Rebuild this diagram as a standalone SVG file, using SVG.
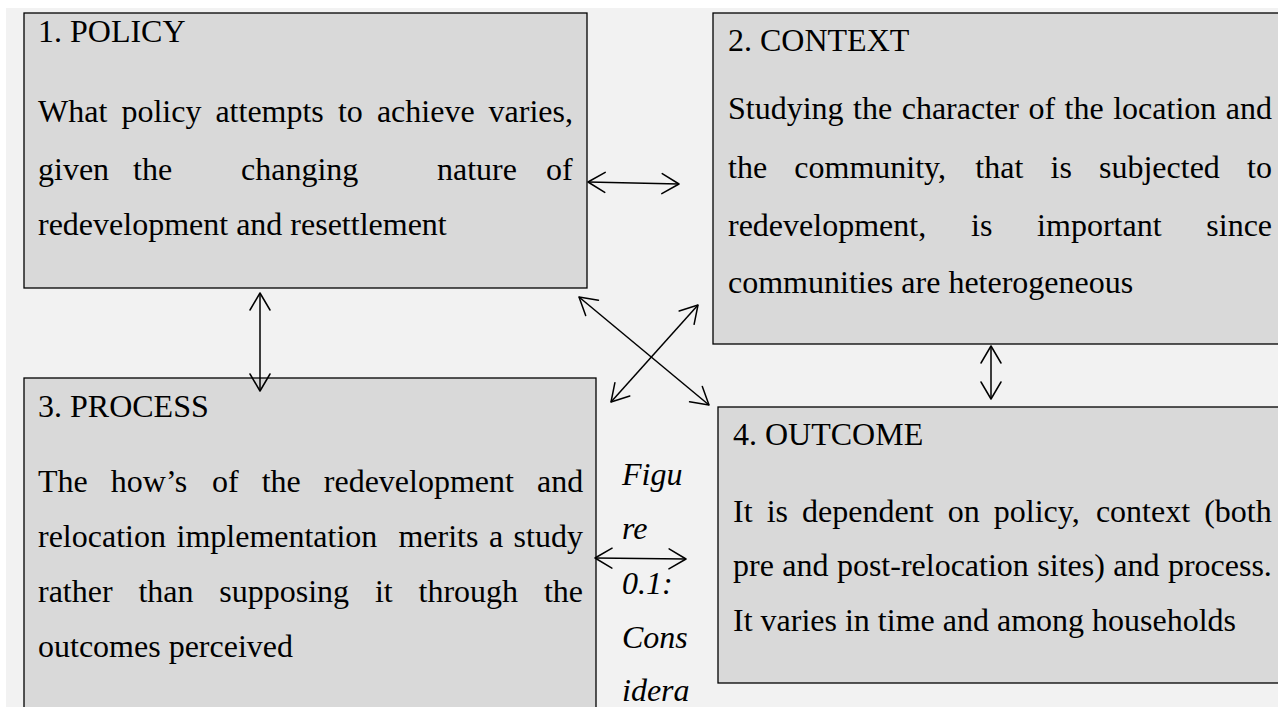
<svg xmlns="http://www.w3.org/2000/svg" width="1278" height="707" viewBox="0 0 1278 707">
  <style>
    .box { fill: #d9d9d9; stroke: #000; stroke-width: 1.3; }
    .t { font-family: "Liberation Serif", "Times New Roman", serif; font-size: 32px; fill: #000; }
    .cap { font-family: "Liberation Serif", "Times New Roman", serif; font-size: 32px; font-style: italic; fill: #000; }
    .conn { stroke: #000; stroke-width: 1.5; fill: none; marker-start: url(#head); marker-end: url(#head); }
  </style>
  <defs>
    <marker id="head" markerUnits="userSpaceOnUse" markerWidth="40" markerHeight="40" viewBox="-20 -20 40 40" refX="0" refY="0" orient="auto-start-reverse" overflow="visible">
      <path d="M -17 -10 L 0 0 L -17 10" fill="none" stroke="#000" stroke-width="1.5" stroke-linejoin="round" stroke-linecap="round"/>
    </marker>
  </defs>

  <rect x="0" y="0" width="1278" height="707" fill="#ffffff"/>
  <rect x="6" y="8" width="1272" height="699" fill="#f2f2f2"/>

  <g id="policy">
    <rect class="box" x="24" y="13" width="563" height="275"/>
    <text class="t" x="38" y="42">1. POLICY</text>
    <text class="t" y="122"><tspan x="38">What</tspan><tspan x="121.4">policy</tspan><tspan x="215.4">attempts</tspan><tspan x="337.9">to</tspan><tspan x="376.9">achieve</tspan><tspan x="488.6">varies,</tspan></text>
    <text class="t" y="180"><tspan x="38">given</tspan><tspan x="133">the</tspan><tspan x="241">changing</tspan><tspan x="437">nature</tspan><tspan x="546">of</tspan></text>
    <text class="t" x="38" y="235">redevelopment and resettlement</text>
  </g>

  <g id="context">
    <rect class="box" x="713" y="13" width="570" height="331"/>
    <text class="t" x="728" y="51">2. CONTEXT</text>
    <text class="t" y="119"><tspan x="728">Studying</tspan><tspan x="853.1">the</tspan><tspan x="901.7">character</tspan><tspan x="1028.4">of</tspan><tspan x="1064.6">the</tspan><tspan x="1113.2">location</tspan><tspan x="1225.8">and</tspan></text>
    <text class="t" y="178"><tspan x="728">the</tspan><tspan x="794.3">community,</tspan><tspan x="975.3">that</tspan><tspan x="1050.5">is</tspan><tspan x="1099">subjected</tspan><tspan x="1247.1">to</tspan></text>
    <text class="t" y="236"><tspan x="728">redevelopment,</tspan><tspan x="971">is</tspan><tspan x="1037.1">important</tspan><tspan x="1206.3">since</tspan></text>
    <text class="t" x="728" y="293">communities are heterogeneous</text>
  </g>

  <g id="process">
    <rect class="box" x="24" y="378" width="572" height="340"/>
    <text class="t" x="38" y="417">3. PROCESS</text>
    <text class="t" y="492"><tspan x="38">The</tspan><tspan x="110.8">how’s</tspan><tspan x="212">of</tspan><tspan x="261.7">the</tspan><tspan x="323.8">redevelopment</tspan><tspan x="537">and</tspan></text>
    <text class="t" y="547"><tspan x="38">relocation</tspan><tspan x="176.5">implementation</tspan><tspan x="398.4">merits</tspan><tspan x="488.9">a</tspan><tspan x="513.6">study</tspan></text>
    <text class="t" y="602"><tspan x="38">rather</tspan><tspan x="138.4">than</tspan><tspan x="219.3">supposing</tspan><tspan x="374.9">it</tspan><tspan x="418.5">through</tspan><tspan x="543.9">the</tspan></text>
    <text class="t" x="38" y="657">outcomes perceived</text>
  </g>

  <g id="outcome">
    <rect class="box" x="718" y="407" width="565" height="276"/>
    <text class="t" x="733" y="445">4. OUTCOME</text>
    <text class="t" y="522"><tspan x="733">It</tspan><tspan x="766.7">is</tspan><tspan x="802.1">dependent</tspan><tspan x="947.7">on</tspan><tspan x="993.8">policy,</tspan><tspan x="1095.9">context</tspan><tspan x="1204.2">(both</tspan></text>
    <text class="t" y="576"><tspan x="733">pre</tspan><tspan x="782.3">and</tspan><tspan x="836.9">post-relocation</tspan><tspan x="1037.3">sites)</tspan><tspan x="1113.3">and</tspan><tspan x="1167.9">process.</tspan></text>
    <text class="t" x="733" y="631">It varies in time and among households</text>
  </g>

  <g id="caption">
    <text class="cap" x="622" y="485">Figu</text>
    <text class="cap" x="622" y="539">re</text>
    <text class="cap" x="622" y="594">0.1:</text>
    <text class="cap" x="622" y="648">Cons</text>
    <text class="cap" x="622" y="701">idera</text>
  </g>

  <g id="connectors">
    <line class="conn" x1="588" y1="182" x2="679" y2="184"/>
    <line class="conn" x1="260" y1="293" x2="260" y2="391"/>
    <line class="conn" x1="991" y1="346" x2="991" y2="399"/>
    <line class="conn" x1="579" y1="297" x2="709" y2="405"/>
    <line class="conn" x1="611" y1="402" x2="698" y2="305"/>
    <line class="conn" x1="595" y1="558" x2="686" y2="559"/>
  </g>
</svg>
